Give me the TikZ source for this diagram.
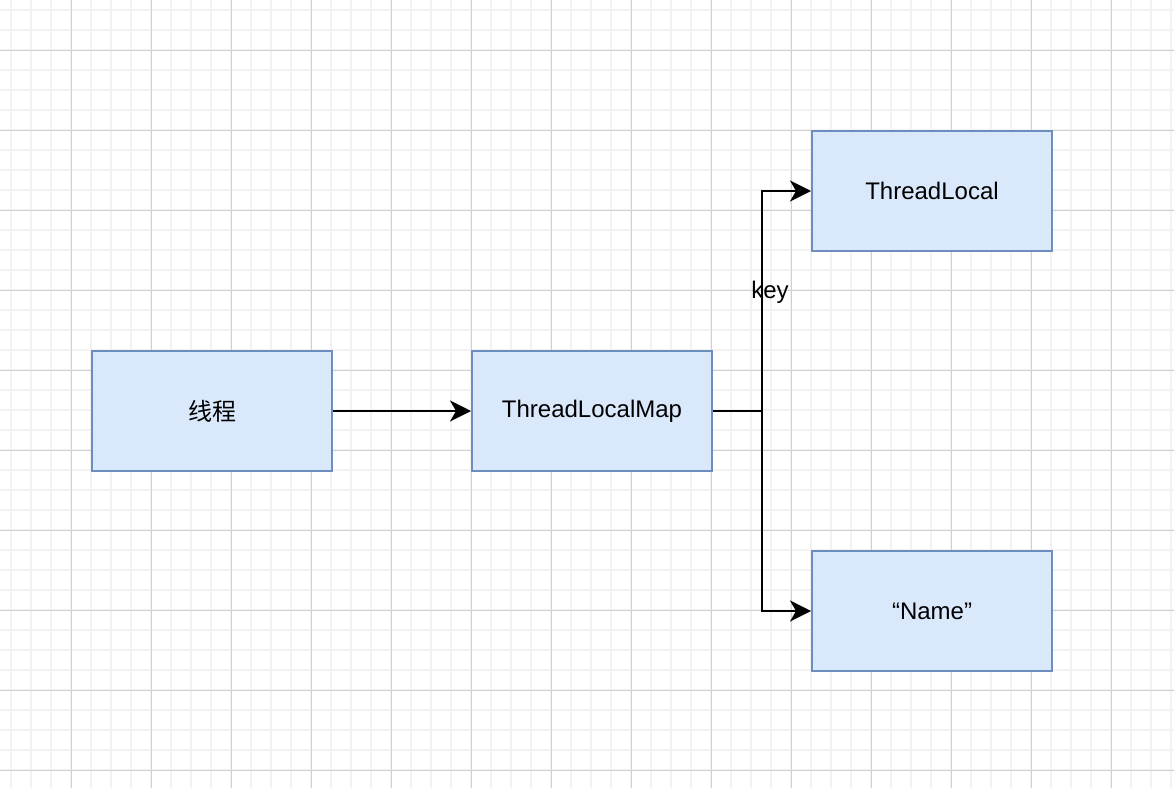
\documentclass[tikz,border=0pt]{standalone}
\usepackage{fontspec}
\setmainfont{Liberation Sans}
\newfontfamily\cjk{Noto Sans CJK SC}
\usetikzlibrary{arrows.meta}
\definecolor{boxfill}{HTML}{DAE8FC}
\definecolor{boxdraw}{HTML}{6C8EBF}
\definecolor{minorgrid}{HTML}{F2F2F2}
\definecolor{majorgrid}{HTML}{D0D0D0}
\tikzset{
  box/.style={draw=boxdraw, fill=boxfill, line width=2pt, minimum width=240pt, minimum height=120pt, inner sep=0pt, font=\fontsize{24}{28}\selectfont},
  conn/.style={draw=black, line width=2pt, -{Stealth[length=21pt,width=21pt,inset=6pt]}},
  lbl/.style={font=\fontsize{24}{28}\selectfont, inner sep=0pt}
}
\begin{document}
\begin{tikzpicture}[x=1pt,y=-1pt]
\useasboundingbox (0,0) rectangle (1174,788);
\fill[white] (0,0) rectangle (1174,788);
\foreach \i in {0,...,58} {\draw[minorgrid, line width=1.5pt] (11+20*\i,0) -- (11+20*\i,788);}
\foreach \i in {0,...,39} {\draw[minorgrid, line width=1.5pt] (0,10+20*\i) -- (1174,10+20*\i);}
\foreach \i in {0,...,14} {\draw[majorgrid, line width=1pt] (71+80*\i,0) -- (71+80*\i,788);}
\foreach \i in {0,...,9} {\draw[majorgrid, line width=1pt] (0,50+80*\i) -- (1174,50+80*\i);}
\node[box] (t) at (212,411) {\cjk 线程};
\node[box] (m) at (592,411) {ThreadLocalMap};
\node[box] (tl) at (932,191) {ThreadLocal};
\node[box] (n) at (932,611) {“Name”};
\coordinate (j) at (762,411);
\draw[conn] (t) -- (m);
\draw[conn] (m.east) -- (j) |- (tl.west);
\draw[conn] (j) |- (n.west);
\node[lbl] (k) at (770,292) {key};
\end{tikzpicture}
\end{document}
